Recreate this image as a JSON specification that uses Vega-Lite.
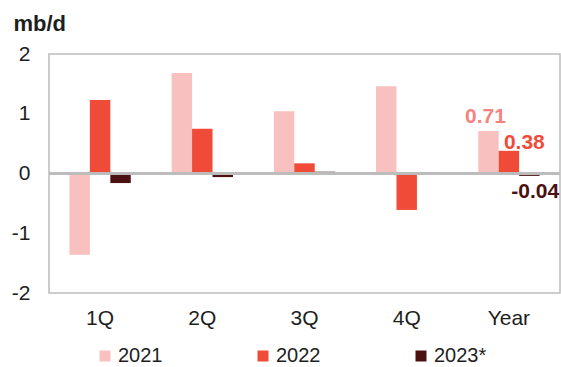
{
  "$schema": "https://vega.github.io/schema/vega-lite/v6.json",
  "autosize": {"type": "none"},
  "width": 511,
  "height": 239,
  "padding": {"left": 49, "top": 54, "right": 1, "bottom": 74},
  "background": "white",
  "config": {
    "font": "Liberation Sans",
    "view": {"stroke": "#BDBDBD", "strokeWidth": 1.5},
    "axis": {"labelFont": "Liberation Sans", "labelColor": "#1e1e1e", "labelFontSize": 21, "ticks": false, "domain": false, "grid": false},
    "legend": {"labelFont": "Liberation Sans", "labelColor": "#1e1e1e", "labelFontSize": 20}
  },
  "data": {
    "values": [
      {"period": "1Q", "series": "2021", "value": -1.36},
      {"period": "1Q", "series": "2022", "value": 1.23},
      {"period": "1Q", "series": "2023*", "value": -0.16},
      {"period": "2Q", "series": "2021", "value": 1.68},
      {"period": "2Q", "series": "2022", "value": 0.75},
      {"period": "2Q", "series": "2023*", "value": -0.06},
      {"period": "3Q", "series": "2021", "value": 1.04},
      {"period": "3Q", "series": "2022", "value": 0.17},
      {"period": "3Q", "series": "2023*", "value": 0.03},
      {"period": "4Q", "series": "2021", "value": 1.46},
      {"period": "4Q", "series": "2022", "value": -0.61},
      {"period": "4Q", "series": "2023*", "value": 0.02},
      {"period": "Year", "series": "2021", "value": 0.71},
      {"period": "Year", "series": "2022", "value": 0.38},
      {"period": "Year", "series": "2023*", "value": -0.04}
    ]
  },
  "encoding": {
    "x": {
      "field": "period", "type": "nominal", "sort": null,
      "scale": {"paddingInner": 0.4, "paddingOuter": 0.2},
      "axis": {"title": null, "labelAngle": 0, "labelPadding": 14}
    },
    "xOffset": {"field": "series", "type": "nominal", "sort": null},
    "y": {
      "field": "value", "type": "quantitative",
      "scale": {"domain": [-2, 2], "nice": false},
      "axis": {
        "values": [-2, -1, 0, 1, 2], "labelPadding": 19,
        "labelExpr": "replace(datum.label, '\u2212', '-')",
        "title": "mb/d", "titleAngle": 0, "titleAlign": "left", "titleBaseline": "alphabetic",
        "titleX": -36, "titleY": -24, "titleFontSize": 22, "titleFontWeight": "bold", "titleColor": "#1e1e1e", "titleFont": "Liberation Sans"
      }
    }
  },
  "layer": [
    {
      "mark": {"type": "bar"},
      "encoding": {
        "color": {
          "field": "series", "type": "nominal", "sort": null,
          "scale": {"domain": ["2021", "2022", "2023*"], "range": ["#F8C1BF", "#F04B38", "#4B1112"]},
          "legend": {
            "title": null, "orient": "none", "direction": "horizontal",
            "legendX": 46, "legendY": 292, "padding": 0,
            "symbolType": "square", "symbolSize": 121, "symbolStrokeWidth": 0,
            "labelOffset": 3, "columnPadding": 90
          }
        }
      }
    },
    {
      "mark": {"type": "rule", "color": "#BDBDBD", "strokeWidth": 1.5},
      "encoding": {"y": {"datum": 0}, "x": null, "xOffset": null}
    },
    {
      "transform": [
        {"filter": "datum.period == 'Year'"},
        {"calculate": "replace(format(datum.value, '.2f'), '\u2212', '-')", "as": "label"}
      ],
      "layer": [
        {
          "transform": [{"filter": "datum.series == '2021'"}],
          "mark": {"type": "text", "fontSize": 21, "fontWeight": "bold", "color": "#F4857E", "align": "center", "baseline": "alphabetic", "dx": -3, "dy": -8},
          "encoding": {"text": {"field": "label", "type": "nominal"}}
        },
        {
          "transform": [{"filter": "datum.series == '2022'"}],
          "mark": {"type": "text", "fontSize": 21, "fontWeight": "bold", "color": "#F04B38", "align": "left", "baseline": "alphabetic", "dx": -5, "dy": -2},
          "encoding": {"text": {"field": "label", "type": "nominal"}}
        },
        {
          "transform": [{"filter": "datum.series == '2023*'"}],
          "mark": {"type": "text", "fontSize": 21, "fontWeight": "bold", "color": "#4B1112", "align": "left", "baseline": "alphabetic", "dx": -18, "dy": 22},
          "encoding": {"text": {"field": "label", "type": "nominal"}}
        }
      ]
    }
  ]
}
